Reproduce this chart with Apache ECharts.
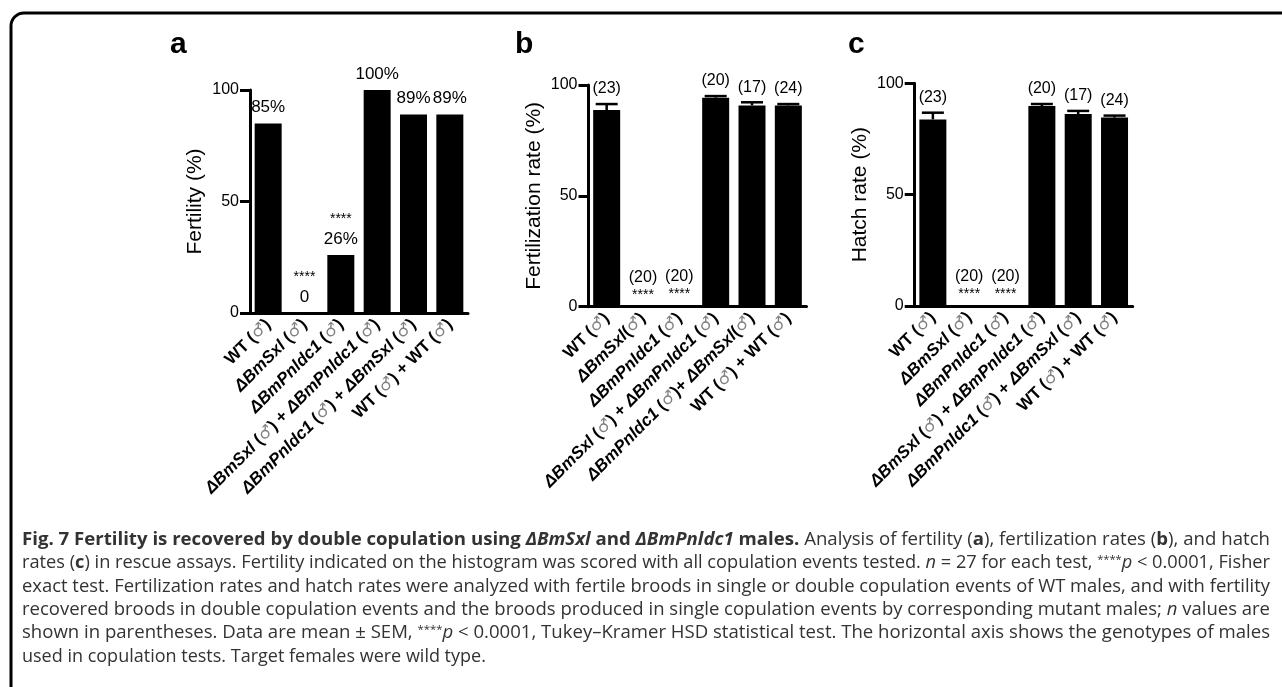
<!DOCTYPE html>
<html>
<head>
<meta charset="utf-8">
<script src="https://cdn.jsdelivr.net/npm/echarts@6/dist/echarts.min.js"></script>
<style>
  html, body { margin: 0; padding: 0; background: #fff; }
  #chart { width: 1282px; height: 687px; }
</style>
</head>
<body>
<div id="chart"></div>
<script>
// categories (one list per panel, spacing differs slightly in panel b)
var catsA = ['WT (♂)', 'ΔBmSxl (♂)', 'ΔBmPnldc1 (♂)', 'ΔBmSxl (♂) + ΔBmPnldc1 (♂)', 'ΔBmPnldc1 (♂) + ΔBmSxl (♂)', 'WT (♂) + WT (♂)'];
var catsB = ['WT (♂)', 'ΔBmSxl(♂)', 'ΔBmPnldc1 (♂)', 'ΔBmSxl (♂) + ΔBmPnldc1 (♂)', 'ΔBmPnldc1 (♂)+ ΔBmSxl(♂)', 'WT (♂) + WT (♂)'];
var catsC = catsA;

// panel a
var fertility = [85, 0, 26, 100, 89, 89];
var fertilityText = ['85%', '0', '26%', '100%', '89%', '89%'];
var fertilityStars = ['', '****', '****', '', '', ''];

// panel b
var fertRate = [88.7, 0, 0.4, 94.3, 90.8, 90.8];
var fertSem = [2.7, 0, 0, 0.7, 1.4, 0.6];

// panel c
var hatchRate = [83.8, 0, 0, 89.8, 86.2, 84.6];
var hatchSem = [3.0, 0, 0, 0.9, 1.4, 0.9];

var nValues = [23, 20, 20, 20, 17, 24];
var rateStars = ['', '****', '****', '', '', ''];
var yTicks = [0, 50, 100];

var chart = echarts.init(document.getElementById('chart'));
var FONT = 'Liberation Sans, Arial, Helvetica, sans-serif';

function catLabel(s) {
  return s.replace(/Δ?Bm[A-Za-z0-9]+/g, '{i|$&}').replace(/♂/g, '{m|♂}');
}

function xAxisFor(idx, cats) {
  return {
    type: 'category', gridIndex: idx, data: cats,
    axisLine: { lineStyle: { color: '#000', width: 3 } },
    axisTick: { alignWithLabel: true, length: 10, lineStyle: { color: '#000', width: 3 } },
    axisLabel: {
      rotate: 45, margin: 9, interval: 0, color: '#000',
      fontFamily: FONT, fontSize: 17, fontWeight: 'bold',
      formatter: catLabel,
      rich: {
        i: { fontFamily: FONT, fontSize: 17, fontWeight: 'bold', fontStyle: 'italic', color: '#000' },
        m: { fontFamily: 'DejaVu Sans', fontSize: 16, color: '#808080' }
      }
    }
  };
}

function yAxisFor(idx, name) {
  return {
    type: 'value', gridIndex: idx, min: 0, max: 100, interval: 50,
    name: name, nameLocation: 'middle', nameGap: 44,
    nameTextStyle: { fontFamily: FONT, fontSize: 21, color: '#000' },
    axisLine: { show: true, lineStyle: { color: '#000', width: 3 } },
    axisTick: { show: true, length: 10, lineStyle: { color: '#000', width: 3 } },
    splitLine: { show: false },
    axisLabel: {
      margin: 11, color: '#000', fontFamily: FONT, fontSize: 16,
      formatter: function (v) { return yTicks.indexOf(v) >= 0 ? String(v) : ''; }
    }
  };
}

function errorSeries(idx, values, sems) {
  return {
    type: 'custom', xAxisIndex: idx, yAxisIndex: idx, z: 5,
    data: values.map(function (v, i) { return [i, v, sems[i]]; }),
    renderItem: function (params, api) {
      var i = api.value(0), v = api.value(1), e = api.value(2);
      var base = api.coord([i, v]);
      var top = api.coord([i, v + e]);
      var children = [];
      if (e > 0) {
        children.push({ type: 'line', shape: { x1: base[0], y1: base[1], x2: top[0], y2: top[1] }, style: { stroke: '#000', lineWidth: 2.5 } });
        children.push({ type: 'line', shape: { x1: top[0] - 11, y1: top[1], x2: top[0] + 11, y2: top[1] }, style: { stroke: '#000', lineWidth: 2.5 } });
      }
      var txt = '{n|(' + nValues[i] + ')}';
      if (rateStars[i]) txt += '\n{s|' + rateStars[i] + '}';
      children.push({
        type: 'text', x: top[0], y: top[1] - (rateStars[i] ? 4 : 6),
        style: {
          text: txt, align: 'center', verticalAlign: 'bottom',
          rich: {
            n: { fontFamily: FONT, fontSize: 16, color: '#000', lineHeight: 18 },
            s: { fontFamily: FONT, fontSize: 14, color: '#000', lineHeight: 16 }
          }
        }
      });
      return { type: 'group', children: children };
    }
  };
}

function barSeries(idx, values) {
  return {
    type: 'bar', xAxisIndex: idx, yAxisIndex: idx, data: values,
    barWidth: 27, itemStyle: { color: '#000' }
  };
}

var captionLines = [
  '{b|Fig. 7 Fertility is recovered by double copulation using }{bi|ΔBmSxl}{b| and }{bi|ΔBmPnldc1}{b| males.} Analysis of fertility ({b|a}), fertilization rates ({b|b}), and hatch',
  'rates ({b|c}) in rescue assays. Fertility indicated on the histogram was scored with all copulation events tested. {i|n} = 27 for each test, {sup|****}{i|p} < 0.0001, Fisher',
  'exact test. Fertilization rates and hatch rates were analyzed with fertile broods in single or double copulation events of WT males, and with fertility',
  'recovered broods in double copulation events and the broods produced in single copulation events by corresponding mutant males; {i|n} values are',
  'shown in parentheses. Data are mean ± SEM, {sup|****}{i|p} < 0.0001, Tukey–Kramer HSD statistical test. The horizontal axis shows the genotypes of males',
  'used in copulation tests. Target females were wild type.'
];
var CAP = 'Open Sans, Noto Sans, sans-serif';
var CAPSIZE = 18;
var capRich = {
  b: { fontFamily: CAP, fontSize: CAPSIZE, fontWeight: 'bold', color: '#111' },
  bi: { fontFamily: CAP, fontSize: CAPSIZE, fontWeight: 'bold', fontStyle: 'italic', color: '#111' },
  i: { fontFamily: CAP, fontSize: CAPSIZE, fontStyle: 'italic', color: '#333' },
  sup: { fontFamily: CAP, fontSize: 11, color: '#333', verticalAlign: 'top', padding: [0, 0, 7, 0] }
};

// rounded frame on the left and top
var graphics = [
  { type: 'line', shape: { x1: 11, y1: 26, x2: 11, y2: 690 }, style: { stroke: '#000', lineWidth: 3 } },
  { type: 'line', shape: { x1: 24, y1: 13, x2: 1285, y2: 13 }, style: { stroke: '#000', lineWidth: 3 } },
  { type: 'arc', shape: { cx: 24, cy: 26, r: 13, startAngle: Math.PI, endAngle: Math.PI * 1.5, clockwise: true }, style: { stroke: '#000', lineWidth: 3, fill: null } },
  { type: 'text', left: 170, top: 30, style: { text: 'a', font: 'bold 30px ' + FONT, fill: '#000' } },
  { type: 'text', left: 515, top: 30, style: { text: 'b', font: 'bold 30px ' + FONT, fill: '#000' } },
  { type: 'text', left: 848, top: 30, style: { text: 'c', font: 'bold 30px ' + FONT, fill: '#000' } }
];

// caption is justified: stretch each full line to the text block width
var capLeft = 22, capWidth = 1248;
captionLines.forEach(function (line, k) {
  var style = { text: line, fontFamily: CAP, fontSize: CAPSIZE, fill: '#333', rich: capRich };
  var sx = 1;
  if (k < captionLines.length - 1) {
    var probe = new echarts.graphic.Text({ style: style });
    var w = probe.getBoundingRect().width;
    if (w > 0) sx = capWidth / w;
  }
  graphics.push({ type: 'text', x: capLeft, y: 531 + k * 23.3, scaleX: sx, style: style });
});

chart.setOption({
  animation: false,
  backgroundColor: '#fff',
  grid: [
    { left: 250, top: 90, width: 218, height: 223 },
    { left: 588.5, top: 85, width: 218, height: 221.7 },
    { left: 914.7, top: 83.3, width: 218, height: 222.7 }
  ],
  xAxis: [xAxisFor(0, catsA), xAxisFor(1, catsB), xAxisFor(2, catsC)],
  yAxis: [yAxisFor(0, 'Fertility (%)'), yAxisFor(1, 'Fertilization rate (%)'), yAxisFor(2, 'Hatch rate (%)')],
  series: [
    {
      type: 'bar', xAxisIndex: 0, yAxisIndex: 0, data: fertility,
      barWidth: 27, itemStyle: { color: '#000' },
      label: {
        show: true, position: 'top', distance: 6,
        formatter: function (p) {
          var s = '{v|' + fertilityText[p.dataIndex] + '}';
          return fertilityStars[p.dataIndex] ? '{s|' + fertilityStars[p.dataIndex] + '}\n' + s : s;
        },
        rich: {
          v: { fontFamily: FONT, fontSize: 17, color: '#000', lineHeight: 20 },
          s: { fontFamily: FONT, fontSize: 14, color: '#000', lineHeight: 20 }
        }
      }
    },
    barSeries(1, fertRate),
    errorSeries(1, fertRate, fertSem),
    barSeries(2, hatchRate),
    errorSeries(2, hatchRate, hatchSem)
  ],
  graphic: graphics
});
</script>
</body>
</html>
